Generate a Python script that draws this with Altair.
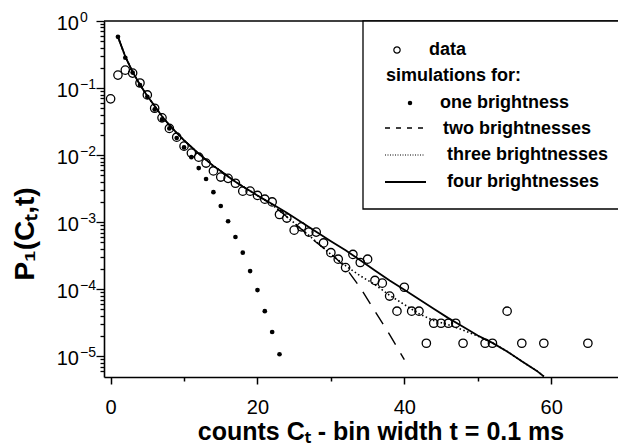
import altair as alt
import pandas as pd

# ---------------- data ----------------
data_c = list(range(0, 49)) + [51, 52, 54, 56, 59, 65]
data_p = [0.069, 0.156, 0.185, 0.167, 0.119, 0.079, 0.050, 0.036, 0.025, 0.0185,
          0.0136, 0.0107, 0.0093, 0.0076, 0.0058, 0.0047, 0.0045, 0.0038, 0.0029, 0.0029,
          0.0025, 0.0022, 0.0020, 0.0013, 0.00115, 0.00076, 0.00085, 0.00071, 0.00071, 0.00049,
          0.00035, 0.00028, 0.00021, 0.00033, 0.00025, 0.00028, 0.000135, 0.000123, 0.000079, 0.000047,
          0.000107, 0.000047, 0.000047, 0.0000156, 0.000031, 0.000031, 0.000031, 0.000031, 0.0000156,
          0.0000156, 0.0000156, 0.000047, 0.0000156, 0.0000156, 0.0000156]

one_c = list(range(1, 24))
one_p = [0.58, 0.283, 0.17, 0.111, 0.074, 0.048, 0.034, 0.025, 0.018, 0.013,
         0.0093, 0.0064, 0.0044, 0.0028, 0.00174, 0.00103, 0.00060, 0.00035, 0.000186, 0.000097,
         0.000047, 0.000023, 0.0000107]

four_c = [1, 2, 3, 4, 5, 6, 7, 8, 9, 10, 11, 12, 13, 14, 15, 16, 17, 18, 20, 22, 24, 26, 28, 30,
          32, 34, 36, 38, 40, 42, 44, 46, 48, 50, 52, 54, 56, 58, 59]
four_p = [0.58, 0.295, 0.174, 0.112, 0.076, 0.054, 0.038, 0.028, 0.0214, 0.0166, 0.0132, 0.0105,
          0.0085, 0.0069, 0.0058, 0.0048, 0.0040, 0.0034, 0.0025, 0.00186, 0.00138, 0.00100,
          0.00072, 0.00052, 0.00038, 0.00027, 0.00019, 0.000135, 0.000098, 0.000071, 0.000051,
          0.000037, 0.0000275, 0.0000204, 0.0000158, 0.0000118, 0.0000084, 0.0000061, 0.0000050]

three_c = four_c
three_p = [0.58, 0.295, 0.174, 0.112, 0.076, 0.054, 0.038, 0.028, 0.0214, 0.0166, 0.0132, 0.0105,
           0.0085, 0.0069, 0.0058, 0.0048, 0.0040, 0.0034, 0.0025, 0.00182, 0.0012, 0.00079,
           0.00051, 0.00033, 0.000224, 0.000158, 0.000117, 0.000081, 0.000059, 0.000043, 0.000034,
           0.0000295, 0.0000245, 0.0000200, 0.0000158, 0.0000118, 0.0000084, 0.0000061, 0.0000050]

two_c = [1, 2, 3, 4, 5, 6, 7, 8, 9, 10, 11, 12, 13, 14, 15, 16, 17, 18, 20, 22, 24, 26, 28, 30,
         32, 34, 36, 38, 40]
two_p = [0.58, 0.295, 0.174, 0.112, 0.076, 0.054, 0.038, 0.028, 0.0214, 0.0166, 0.0132, 0.0105,
         0.0085, 0.0069, 0.0058, 0.0048, 0.0040, 0.0034, 0.0025, 0.00182, 0.0012, 0.00078,
         0.0005, 0.00034, 0.00021, 0.000105, 0.000047, 0.000021, 0.0000089]

x_tick_vals = [0, 10, 20, 30, 40, 50, 60]
y_decades = [1.0, 0.1, 0.01, 0.001, 0.0001, 0.00001]
y_exponents = ["0", "\u22121", "\u22122", "\u22123", "\u22124", "\u22125"]
y_minor_mult = [1, 2, 3, 4, 5, 6, 7, 8, 9]

legend_labels = ["data", "simulations for:", "one brightness", "two brightnesses",
                 "three brightnesses", "four brightnesses"]
x_title = "counts C\u209c - bin width t = 0.1 ms"
y_title = "P\u2081(C\u209c,t)"

# ---------------- layout ----------------
W, H = 514, 356
FONT = "Liberation Sans"
y_tick_vals = [m * d for d in [1e-6, 1e-5, 1e-4, 1e-3, 1e-2, 1e-1] for m in y_minor_mult
               if m * d >= 5.5e-6] + [1.0]

xs = alt.Scale(domain=[-0.9, 69.1], nice=False, zero=False)
ys = alt.Scale(type="log", domain=[4.9e-6, 1.0], nice=False)

is_decade = "abs(log(datum.value)/LN10 - round(log(datum.value)/LN10)) < 0.01"

x_axis = alt.Axis(
    values=x_tick_vals, labelExpr="datum.value % 20 == 0 ? datum.label : ''",
    tickSize={"condition": {"test": "datum.value % 20 == 0", "value": 7}, "value": 4},
    tickColor="black", tickWidth=1.5, domainColor="black", domainWidth=1.6,
    labelFont=FONT, labelFontSize=20, labelColor="black", labelPadding=13,
    labelOverlap=False, grid=False)
y_axis = alt.Axis(
    values=y_tick_vals, labels=False,
    tickSize={"condition": {"test": is_decade, "value": 8}, "value": 4},
    tickColor="black", tickWidth=1.3, domainColor="black", domainWidth=1.6, grid=False)


def X(field="c"):
    return alt.X(f"{field}:Q", scale=xs, axis=x_axis, title=None)


def Y(field="p"):
    return alt.Y(f"{field}:Q", scale=ys, axis=y_axis, title=None)


one = pd.DataFrame({"c": [0]})

# simulation curves
two_line = alt.Chart(pd.DataFrame({"c": two_c, "p": two_p})).mark_line(
    color="black", strokeWidth=1.4, strokeDash=[14, 10], clip=True
).encode(x=X(), y=Y())
three_line = alt.Chart(pd.DataFrame({"c": three_c, "p": three_p})).mark_line(
    color="black", strokeWidth=1.6, strokeDash=[1.5, 2.5], clip=True
).encode(x=X(), y=Y())
four_line = alt.Chart(pd.DataFrame({"c": four_c, "p": four_p})).mark_line(
    color="black", strokeWidth=1.8, clip=True
).encode(x=X(), y=Y())

one_pts = alt.Chart(pd.DataFrame({"c": one_c, "p": one_p})).mark_point(
    shape="circle", filled=True, color="black", size=22, opacity=1, clip=True
).encode(x=X(), y=Y())

data_pts = alt.Chart(pd.DataFrame({"c": data_c, "p": data_p})).mark_point(
    shape="circle", filled=False, color="black", size=70, strokeWidth=1.3, opacity=1, clip=True
).encode(x=X(), y=Y())

# y tick labels "10" with superscript exponent
ylab = pd.DataFrame({"v": y_decades, "e": y_exponents})
ten_txt = alt.Chart(ylab).mark_text(
    align="right", baseline="middle", font=FONT, fontSize=20, color="black", dy=3
).encode(x=alt.value(-25), y=Y("v"), text=alt.value("10"))
exp_txt = alt.Chart(ylab).mark_text(
    align="left", baseline="alphabetic", font=FONT, fontSize=14, color="black", dy=1
).encode(x=alt.value(-24), y=Y("v"), text="e:N")

# top frame
top_rule = alt.Chart(one).mark_rule(color="black", strokeWidth=1.5).encode(
    x=alt.value(0), x2=alt.value(W), y=alt.value(0))

# titles
x_title_mark = alt.Chart(one).mark_text(
    font=FONT, fontSize=25, fontWeight="bold", color="black", align="center", baseline="middle"
).encode(x=alt.value(277), y=alt.value(411), text=alt.value(x_title))
y_title_mark = alt.Chart(one).mark_text(
    font=FONT, fontSize=28, fontWeight="bold", color="black", align="center", baseline="middle",
    angle=270
).encode(x=alt.value(-78), y=alt.value(213), text=alt.value(y_title))

# legend
leg_box = alt.Chart(one).mark_rect(fill="white", stroke="black", strokeWidth=1.3).encode(
    x=alt.value(259), x2=alt.value(W + 6), y=alt.value(0), y2=alt.value(188))
leg_circle = alt.Chart(one).mark_point(shape="circle", filled=False, color="black", size=40,
                                       strokeWidth=1.2, opacity=1).encode(
    x=alt.value(293), y=alt.value(29))
leg_dot = alt.Chart(one).mark_point(shape="circle", filled=True, color="black", size=20,
                                    opacity=1).encode(x=alt.value(306), y=alt.value(82))
leg_dash = alt.Chart(one).mark_rule(color="black", strokeWidth=1.6, strokeDash=[5, 6]).encode(
    x=alt.value(281), x2=alt.value(320), y=alt.value(107))
leg_dot_line = alt.Chart(one).mark_rule(color="black", strokeWidth=1.2, strokeDash=[1, 1.5]).encode(
    x=alt.value(281), x2=alt.value(320), y=alt.value(134))
leg_solid = alt.Chart(one).mark_rule(color="black", strokeWidth=1.8).encode(
    x=alt.value(281), x2=alt.value(322), y=alt.value(161))

leg_pos = [(325, 29), (282, 55), (336, 82), (339, 108), (343, 134), (343, 161)]
leg_texts = []
for lab, (px, py) in zip(legend_labels, leg_pos):
    leg_texts.append(alt.Chart(one).mark_text(
        font=FONT, fontSize=18, fontWeight="bold", color="black", align="left", baseline="middle"
    ).encode(x=alt.value(px), y=alt.value(py), text=alt.value(lab)))

chart = alt.layer(
    data_pts, two_line, three_line, four_line, one_pts, ten_txt, exp_txt, top_rule,
    x_title_mark, y_title_mark, leg_box, leg_circle, leg_dot, leg_dash, leg_dot_line, leg_solid,
    *leg_texts
).properties(
    width=W, height=H,
    autosize=alt.AutoSizeParams(type="none"),
    padding={"left": 104, "top": 21, "right": 0, "bottom": 70},
    background="white",
).configure_view(strokeWidth=0)

chart.save("out.html", embed_options={"renderer": "svg", "actions": False})
